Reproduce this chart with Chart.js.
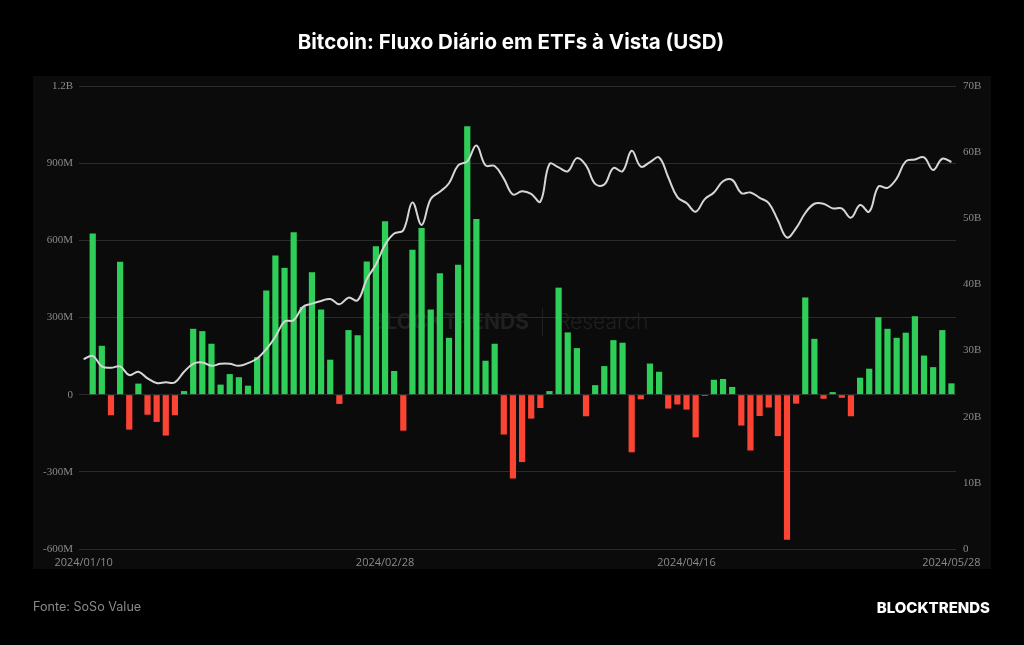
<!DOCTYPE html>
<html>
<head>
<meta charset="utf-8">
<script src="https://cdn.jsdelivr.net/npm/chart.js@4.4.1/dist/chart.umd.min.js"></script>
<style>
  html, body { margin: 0; padding: 0; background: #000; }
  #c { display: block; }
</style>
</head>
<body>
<canvas id="c" width="1024" height="645"></canvas>
<script>
// ---- Data ----
const dates = [
  '2024/01/10','2024/01/11','2024/01/12','2024/01/16','2024/01/17','2024/01/18','2024/01/19',
  '2024/01/22','2024/01/23','2024/01/24','2024/01/25','2024/01/26','2024/01/29','2024/01/30','2024/01/31',
  '2024/02/01','2024/02/02','2024/02/05','2024/02/06','2024/02/07','2024/02/08','2024/02/09',
  '2024/02/12','2024/02/13','2024/02/14','2024/02/15','2024/02/16','2024/02/20','2024/02/21','2024/02/22','2024/02/23',
  '2024/02/26','2024/02/27','2024/02/28','2024/02/29',
  '2024/03/01','2024/03/04','2024/03/05','2024/03/06','2024/03/07','2024/03/08',
  '2024/03/11','2024/03/12','2024/03/13','2024/03/14','2024/03/15',
  '2024/03/18','2024/03/19','2024/03/20','2024/03/21','2024/03/22',
  '2024/03/25','2024/03/26','2024/03/27','2024/03/28',
  '2024/04/01','2024/04/02','2024/04/03','2024/04/04','2024/04/05',
  '2024/04/08','2024/04/09','2024/04/10','2024/04/11','2024/04/12',
  '2024/04/15','2024/04/16','2024/04/17','2024/04/18','2024/04/19',
  '2024/04/22','2024/04/23','2024/04/24','2024/04/25','2024/04/26','2024/04/29','2024/04/30',
  '2024/05/01','2024/05/02','2024/05/03','2024/05/06','2024/05/07','2024/05/08','2024/05/09','2024/05/10',
  '2024/05/13','2024/05/14','2024/05/15','2024/05/16','2024/05/17',
  '2024/05/20','2024/05/21','2024/05/22','2024/05/23','2024/05/24','2024/05/28'
];

// Daily net flow, millions USD
const dailyFlowM = [
  null,
  627, 190, -80, 517, -136, 43, -78, -106, -159, -80,
  14, 256, 247, 198, 39, 80, 68, 35, 146, 405,
  541, 493, 631, 341, 476, 331, 136, -36, 251, 231,
  518, 577, 674, 92, -140, 563, 648, 331, 472, 221,
  505, 1044, 683, 132, 198, -155, -326, -262, -93, -52,
  14, 416, 242, 181, -84, 37, 111, 212, 202, -224,
  -18, 121, 89, -54, -38, -58, -166, -5, 58, 61,
  30, -120, -217, -83, -50, -161, -564, -35, 378, 217,
  -16, 10, -12, -84, 66, 101, 301, 256, 221, 241,
  305, 152, 107, 251, 44
];

// Total net assets, billions USD
const totalAssetsB = [
  28.7, 29.2, 27.6, 27.4, 27.6, 26.3, 26.8, 25.8, 25.1, 25.2,
  25.2, 26.8, 28.0, 28.2, 27.7, 28.0, 28.0, 27.7, 28.1, 28.8,
  30.2, 32.1, 34.4, 34.6, 36.6, 37.1, 37.5, 37.8, 37.0, 38.0,
  37.6, 40.8, 43.0, 46.0, 47.7, 48.2, 52.4, 49.0, 52.9, 54.0,
  55.3, 58.0, 58.6, 61.0, 58.0, 57.9, 56.0, 53.6, 54.1, 53.7,
  52.5, 58.2, 57.7, 57.1, 59.1, 58.0, 55.2, 55.1, 57.6, 57.1,
  60.2, 57.8, 58.5, 59.2, 56.2, 53.2, 52.3, 51.0, 52.9, 53.9,
  55.6, 55.8, 53.8, 53.9, 53.1, 52.3, 49.7, 47.1, 48.5, 50.8,
  52.2, 52.2, 51.5, 51.5, 50.1, 52.0, 51.0, 54.8, 54.6, 56.0,
  58.6, 58.9, 59.2, 57.3, 59.0, 58.5
];

const xTickLabels = ['2024/01/10', '2024/02/28', '2024/04/16', '2024/05/28'];
const leftTickValues = [-600, -300, 0, 300, 600, 900, 1200];
const leftTickLabels = ['-600M', '-300M', '0', '300M', '600M', '900M', '1.2B'];
const rightTickValues = [0, 10, 20, 30, 40, 50, 60, 70];
const rightTickLabels = ['0', '10B', '20B', '30B', '40B', '50B', '60B', '70B'];

const titleText = 'Bitcoin: Fluxo Diário em ETFs à Vista (USD)';
const sourceText = 'Fonte: SoSo Value';
const brandText = 'BLOCKTRENDS';

// ---- Styles ----
const GREEN = '#2fce58';
const RED = '#fb4434';
const GRID = '#2b2b2b';
const AXIS_TEXT = '#8a8a8a';

const decorPlugin = {
  id: 'decor',
  beforeDraw(chart) {
    const ctx = chart.ctx;
    ctx.save();
    ctx.fillStyle = '#000';
    ctx.fillRect(0, 0, chart.width, chart.height);
    ctx.fillStyle = '#0b0b0b';
    ctx.fillRect(33, 76, 958, 493);
    // title
    ctx.fillStyle = '#ffffff';
    ctx.font = 'bold 20.5px Inter, "Noto Sans", sans-serif';
    ctx.textAlign = 'center';
    ctx.textBaseline = 'middle';
    ctx.fillText(titleText, 511, 43);
    // footer
    ctx.fillStyle = '#8a8a8a';
    ctx.font = '12.6px Inter, "Noto Sans", sans-serif';
    ctx.textAlign = 'left';
    ctx.fillText(sourceText, 33, 607);
    ctx.fillStyle = '#ffffff';
    ctx.font = '800 15px Inter, "Noto Sans", sans-serif';
    ctx.textAlign = 'right';
    ctx.fillText(brandText, 990, 608);
    ctx.restore();
  },
  beforeDatasetsDraw(chart) {
    const ctx = chart.ctx;
    ctx.save();
    ctx.textBaseline = 'middle';
    ctx.fillStyle = '#202020';
    ctx.font = 'bold 21px Inter, "Noto Sans", sans-serif';
    ctx.textAlign = 'right';
    ctx.fillText('BLOCKTRENDS', 529, 323);
    ctx.fillRect(542, 308, 1, 28);
    ctx.font = '300 21px Inter, "Noto Sans", sans-serif';
    ctx.textAlign = 'left';
    ctx.fillText('Research', 557, 323);
    ctx.restore();
  }
};

new Chart(document.getElementById('c'), {
  data: {
    labels: dates,
    datasets: [
      {
        type: 'line',
        label: 'Ativos totais',
        data: totalAssetsB,
        yAxisID: 'yR',
        borderColor: '#d6d6d6',
        borderWidth: 2,
        pointRadius: 0,
        tension: 0.4,
        order: 0
      },
      {
        type: 'bar',
        label: 'Fluxo diário',
        data: dailyFlowM,
        yAxisID: 'yL',
        backgroundColor: dailyFlowM.map(v => (v !== null && v < 0) ? RED : GREEN),
        barPercentage: 0.68,
        categoryPercentage: 1.0,
        order: 1
      }
    ]
  },
  options: {
    responsive: false,
    devicePixelRatio: 1,
    animation: false,
    layout: { padding: { top: 86, left: 0, right: 0, bottom: 0 } },
    plugins: { legend: { display: false }, tooltip: { enabled: false } },
    scales: {
      x: {
        offset: true,
        grid: { display: false, drawTicks: false },
        border: { display: false },
        ticks: {
          autoSkip: false,
          maxRotation: 0,
          padding: 7,
          color: AXIS_TEXT,
          font: { family: '"Open Sans", sans-serif', size: 11 },
          callback(value) {
            const d = dates[value];
            return xTickLabels.includes(d) ? d : '';
          }
        },
        afterFit(scale) { scale.height = 96; }
      },
      yL: {
        position: 'left',
        min: -600, max: 1200,
        grid: { color: GRID, lineWidth: 1, drawTicks: false },
        border: { display: false },
        ticks: {
          stepSize: 300,
          padding: 6,
          color: AXIS_TEXT,
          font: { family: '"Liberation Serif", serif', size: 11 },
          callback(value) {
            const i = leftTickValues.indexOf(value);
            return i >= 0 ? leftTickLabels[i] : '';
          }
        },
        afterFit(scale) { scale.width = 79; }
      },
      yR: {
        position: 'right',
        min: 0, max: 70,
        grid: { display: false, drawTicks: false },
        border: { display: false },
        ticks: {
          stepSize: 10,
          padding: 7,
          color: AXIS_TEXT,
          font: { family: '"Liberation Serif", serif', size: 11 },
          callback(value) {
            const i = rightTickValues.indexOf(value);
            return i >= 0 ? rightTickLabels[i] : '';
          }
        },
        afterFit(scale) { scale.width = 68; }
      }
    }
  },
  plugins: [decorPlugin]
});
</script>
</body>
</html>
